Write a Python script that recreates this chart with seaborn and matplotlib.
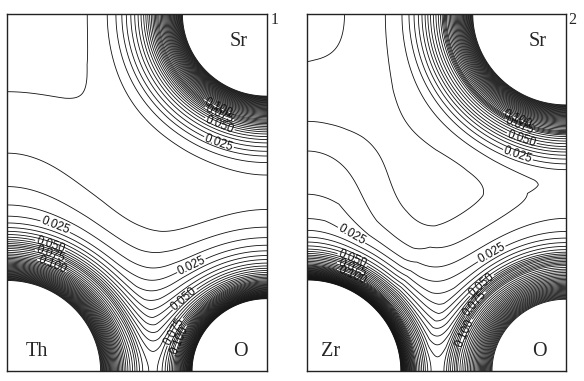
import numpy as np
import matplotlib
matplotlib.use("Agg")
import matplotlib.pyplot as plt
import seaborn as sns

# ---------------- data ----------------
panel_numbers = ["1", "2"]
b_site_names = ["Th", "Zr"]
a_site_name = "Sr"
o_name = "O"

# radial density profiles: distance from the nucleus (px, 520 px = lattice constant a)
# -> electron density (e/bohr^3) ; panel 1 (SrThO3)
th_r = [0, 60, 92, 118, 127, 136, 156, 201, 260, 350, 1000]
th_rho = [50, 1.0, 0.25, 0.095, 0.07, 0.045, 0.0176, 0.0035, 0.00028, 0.00001, 1e-12]
o1_r = [0, 50, 74, 93, 100, 110, 131, 179, 240, 320, 1000]
o1_rho = [50, 1.0, 0.25, 0.093, 0.068, 0.046, 0.023, 0.0055, 0.0010, 0.00006, 1e-12]
sr1_r = [0, 60, 84, 108, 114, 123, 140, 160, 180, 220, 300, 1000]
sr1_rho = [50, 1.0, 0.25, 0.1, 0.075, 0.05, 0.025, 0.0088, 0.0036, 0.0008, 0.00005, 1e-12]

# panel 2 (SrZrO3)
zr_r = [0, 60, 93, 109, 116, 125, 149, 178, 215, 280, 400, 1000]
zr_rho = [50, 1.0, 0.25, 0.091, 0.066, 0.040, 0.013, 0.0043, 0.001, 0.00008, 0.000001, 1e-12]
o2_r = [0, 50, 73, 109, 116, 123, 141, 187, 199, 229, 300, 1000]
o2_rho = [50, 1.0, 0.25, 0.092, 0.068, 0.046, 0.023, 0.0071, 0.0038, 0.0012, 0.00004, 1e-12]
sr2_r = [0, 60, 93, 120, 125, 137, 155, 163, 178, 209, 264, 340, 450, 1000]
sr2_rho = [50, 1.0, 0.25, 0.095, 0.072, 0.048, 0.022, 0.015, 0.0098, 0.0047, 0.0012, 0.0003, 0.00001, 1e-12]

# contour levels
level_step = 0.005
n_levels = 49
label_every = 5  # 0.025, 0.050, 0.075, 0.100
n_labels = 4

# label anchor points (panel px, origin bottom-left)
label_pos_1 = [(48, 144), (43, 125), (43, 116), (45, 106),
               (185, 104), (178, 71), (168, 39), (173, 31),
               (210, 262), (211, 254), (212, 245), (212, 229)]
label_pos_2 = [(46, 138), (46, 113), (45, 103), (45, 96),
               (186, 116), (175, 86), (168, 68), (158, 38),
               (211, 251), (213, 244), (215, 231), (211, 214)]

# ---------------- geometry of the (110) perovskite plane ----------------
PW, PH = 260.0, 357.0          # panel size in px
A_PX = 520.0                   # lattice constant in px


def lattice_sites():
    sites = []
    for i in range(-2, 3):
        for j in range(-2, 3):
            for k in range(-2, 3):
                sites.append(("B", (i, j, k)))
                sites.append(("O", (i + .5, j, k)))
                sites.append(("O", (i, j + .5, k)))
                sites.append(("O", (i, j, k + .5)))
                sites.append(("A", (i + .5, j + .5, k + .5)))
    keep = []
    for t, (x, y, z) in sites:
        if np.sqrt((x - .25) ** 2 + (y - .25) ** 2 + (z - .25) ** 2) < 1.25:
            keep.append((t, (x, y, z)))
    return keep


def field(profiles):
    xs = np.linspace(0, PW, 521)
    ys = np.linspace(0, PH, 715)
    X, Y = np.meshgrid(xs, ys)
    s = Y / (2 * PH)
    z = X / A_PX
    rho = np.zeros_like(X)
    for t, (rx, ry, rz) in lattice_sites():
        r_tab, rho_tab = profiles[t]
        d = np.sqrt((s - rx) ** 2 + (s - ry) ** 2 + (z - rz) ** 2) * A_PX
        rho += np.exp(np.interp(d, r_tab, np.log(rho_tab)))
    return X, Y, rho


sns.set_theme(style="white")
plt.rcParams["font.family"] = ["Liberation Sans", "DejaVu Sans"]

levels = np.round(level_step * np.arange(1, n_levels + 1), 3)
lab_idx = [label_every * (m + 1) - 1 for m in range(n_labels)]
lab_levels = levels[lab_idx]
plain_levels = np.delete(levels, lab_idx)

fig = plt.figure(figsize=(5.84, 3.81), dpi=100)
axes = [fig.add_axes([7 / 584, 10 / 381, 260 / 584, 357 / 381]),
        fig.add_axes([307 / 584, 10 / 381, 259 / 584, 357 / 381])]

panels = [
    ({"B": (th_r, th_rho), "O": (o1_r, o1_rho), "A": (sr1_r, sr1_rho)}, label_pos_1),
    ({"B": (zr_r, zr_rho), "O": (o2_r, o2_rho), "A": (sr2_r, sr2_rho)}, label_pos_2),
]

serif = ["Liberation Serif", "DejaVu Serif"]
line_kw = dict(colors="#111111", linewidths=0.6)
for n, (ax, (profiles, lpos)) in enumerate(zip(axes, panels)):
    X, Y, rho = field(profiles)
    ax.contour(X, Y, rho, levels=plain_levels, **line_kw)
    cs = ax.contour(X, Y, rho, levels=lab_levels, **line_kw)
    ax.clabel(cs, manual=lpos, inline=True, fmt="%.3f",
              fontsize=8.5, inline_spacing=1)
    ax.set_xlim(0, PW)
    ax.set_ylim(0, PH)
    ax.set_xticks([])
    ax.set_yticks([])
    for sp in ax.spines.values():
        sp.set_color("#222222")
        sp.set_linewidth(1.0)
    ax.text(232, 329, a_site_name, ha="center", va="center", fontsize=14.5, family=serif)
    ax.text(30 if n == 0 else 24, 19, b_site_names[n], ha="center", va="center",
            fontsize=14.5, family=serif)
    ax.text(233, 19, o_name, ha="center", va="center", fontsize=14.5, family=serif)

fig.text(275 / 584, 1 - 20 / 381, panel_numbers[0], ha="center", va="center",
         fontsize=11.5, family=serif)
fig.text(572 / 584, 1 - 20 / 381, panel_numbers[1], ha="center", va="center",
         fontsize=11.5, family=serif)

fig.savefig("out.png", dpi=100, facecolor="white")
